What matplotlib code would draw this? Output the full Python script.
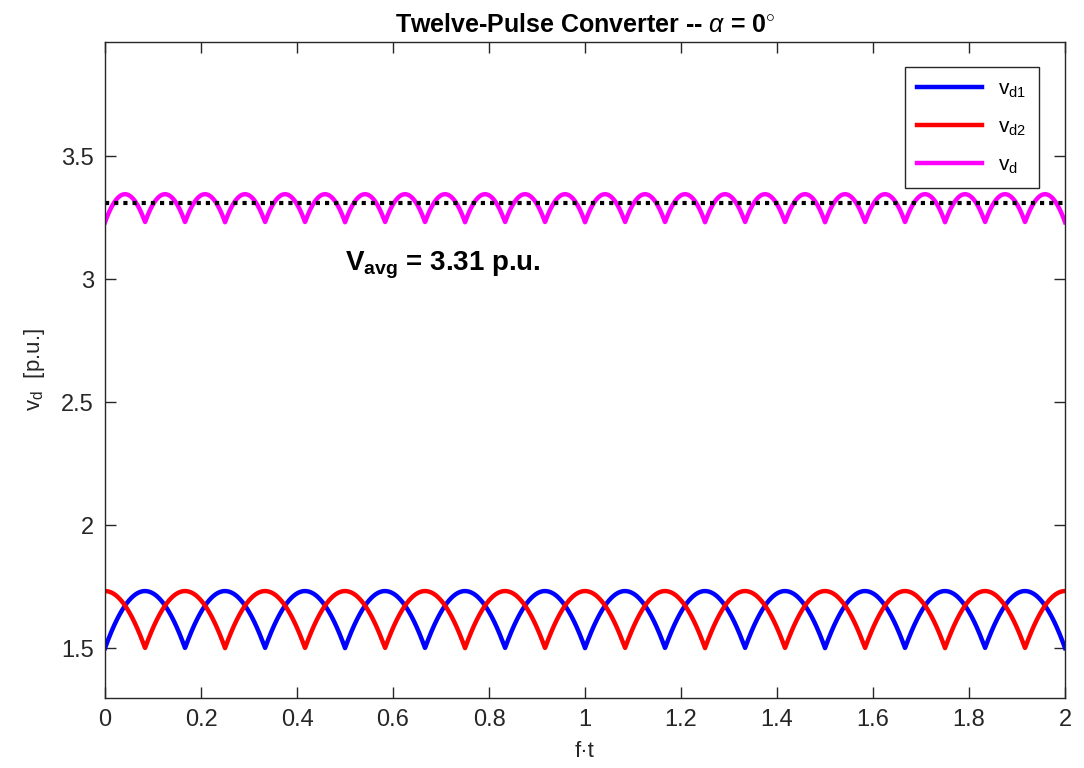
import numpy as np
import matplotlib.pyplot as plt

plt.rcParams['font.family'] = ['Liberation Sans', 'DejaVu Sans']
plt.rcParams['mathtext.fontset'] = 'custom'
plt.rcParams['mathtext.rm'] = 'Liberation Sans'
plt.rcParams['mathtext.it'] = 'Liberation Sans:italic'
plt.rcParams['mathtext.bf'] = 'Liberation Sans:bold'

# converter model (per unit phase amplitude, firing angle 0)
phase_amp = 1.0
bridge_shift_deg = [0, 30]      # bridge 2 fed through Y-D transformer
cycles = 2.0
v_avg = 3.31

x_ticks = [0, 0.2, 0.4, 0.6, 0.8, 1, 1.2, 1.4, 1.6, 1.8, 2]
y_ticks = [1.5, 2, 2.5, 3, 3.5]
legend_labels = [r'$\mathregular{v_{d1}}$', r'$\mathregular{v_{d2}}$', r'$\mathregular{v_d}$']
colors = ['#0000ff', '#ff0000', '#ff00ff']

ft = np.linspace(0, cycles, 4001)


def bridge_output(shift_deg):
    """six-pulse bridge output = max phase - min phase"""
    th = 2 * np.pi * ft - np.deg2rad(shift_deg)
    phases = np.array([phase_amp * np.cos(th + k * 2 * np.pi / 3) for k in range(3)])
    return phases.max(axis=0) - phases.min(axis=0)


vd1 = bridge_output(bridge_shift_deg[0])
vd2 = bridge_output(bridge_shift_deg[1])
vd = vd1 + vd2

fig = plt.figure(figsize=(10.84, 7.68), dpi=100)
ax = fig.add_axes([0.0969, 0.0911, 0.8856, 0.8542])

for y, c, lab in zip([vd1, vd2, vd], colors, legend_labels):
    ax.plot(ft, y, color=c, lw=3.2, label=lab)
ax.plot([0, cycles], [v_avg, v_avg], color='black', lw=3, linestyle=(0, (1, 1.2)))

ax.text(0.5, 3.037, r'$\mathbf{V_{avg}}$ = %.2f p.u.' % v_avg, fontsize=20,
        fontweight='bold', va='baseline', ha='left')

ax.set_xlim(0, cycles)
ax.set_ylim(1.297, 3.965)
ax.set_xticks(x_ticks)
ax.set_xticklabels(['%g' % v for v in x_ticks])
ax.set_yticks(y_ticks)
ax.set_yticklabels(['%g' % v for v in y_ticks])
ax.tick_params(direction='in', top=True, right=True, length=8, width=1,
               labelsize=17, colors='#262626', pad=8)
for s in ax.spines.values():
    s.set_color('#262626')
    s.set_linewidth(1)

ax.set_xlabel('f\u00b7t', fontsize=16, color='#262626', labelpad=7)
ax.set_ylabel(r'$\mathregular{v_d}$  [p.u.]', fontsize=16, color='#262626', labelpad=10)
ax.set_title(r'Twelve-Pulse Converter -- $\alpha$ = 0$^{\circ}$', fontsize=18,
             fontweight='bold', pad=7)

leg = ax.legend(loc='upper right', bbox_to_anchor=(0.973, 0.962), borderaxespad=0,
                fontsize=15, handlelength=3.1, fancybox=False, framealpha=1,
                edgecolor='#262626', borderpad=0.6, labelspacing=0.85)
leg.get_frame().set_linewidth(1)

fig.savefig('out.png', dpi=100)
